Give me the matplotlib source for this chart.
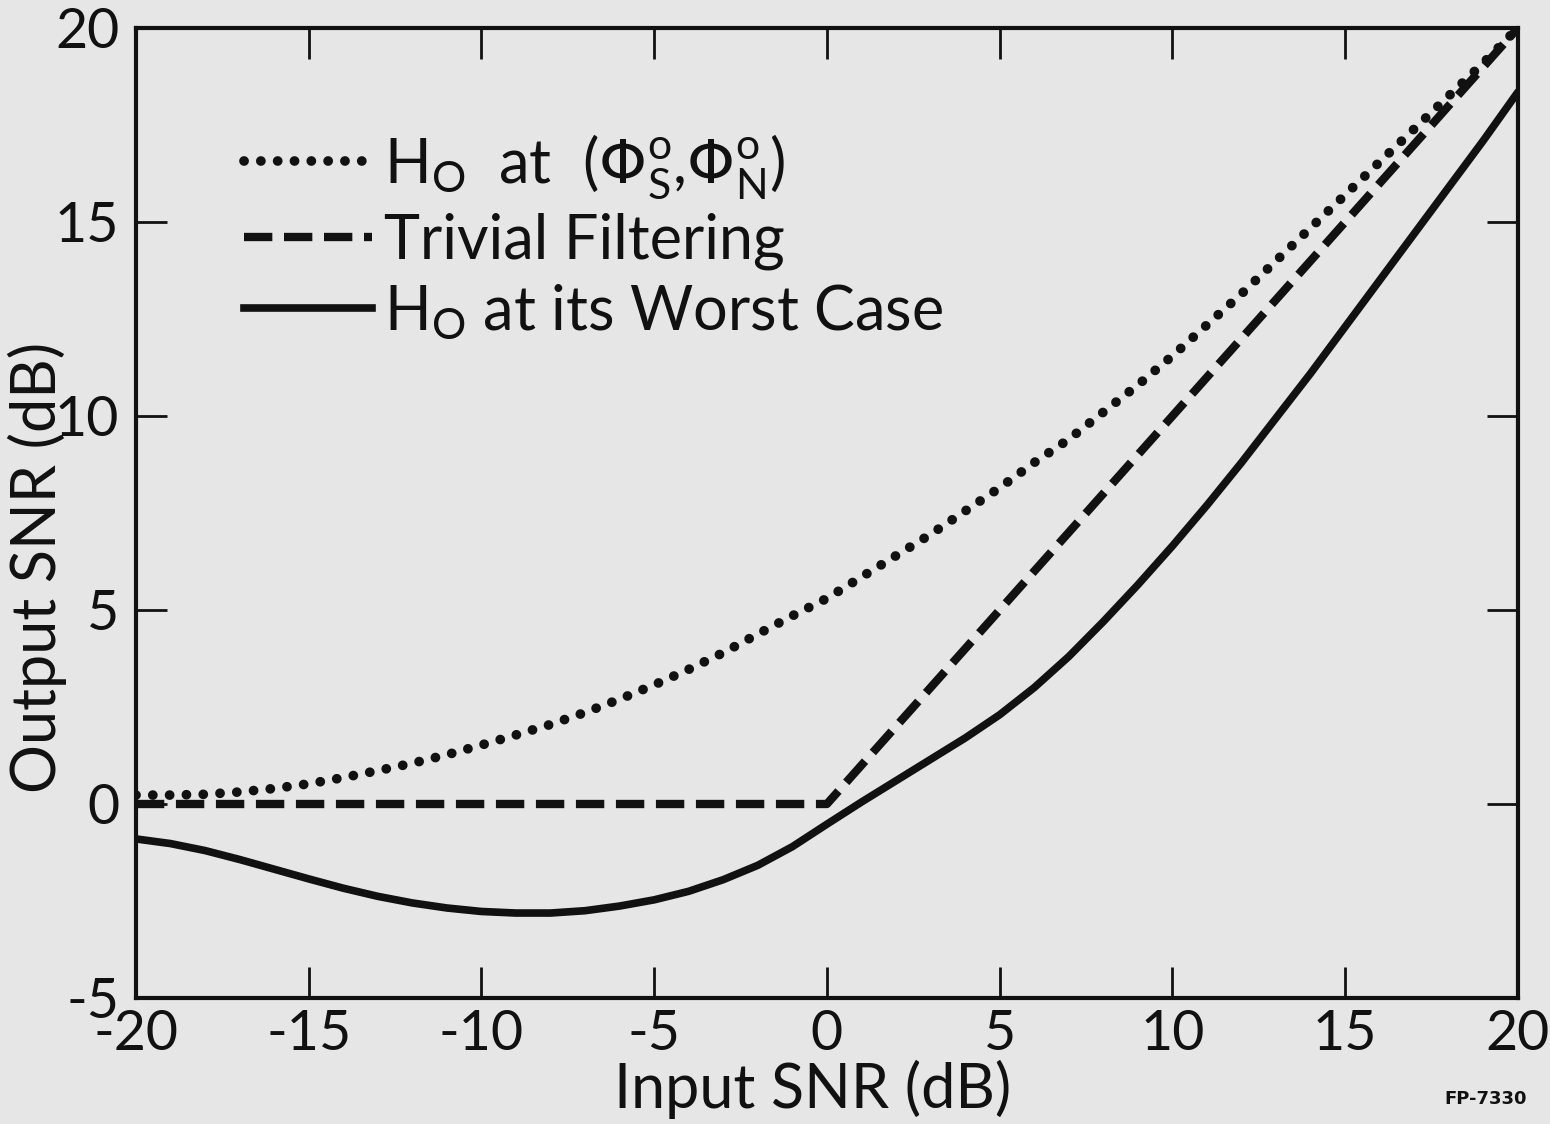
import matplotlib
matplotlib.use("Agg")
import matplotlib.pyplot as plt
from matplotlib.lines import Line2D

plt.rcParams['font.family'] = ['Lato', 'DejaVu Sans']
plt.rcParams['mathtext.fontset'] = 'dejavusans'
plt.rcParams['axes.unicode_minus'] = False

# values (dB)
x_nom = list(range(-20, 21))
ho_nominal = [0.23, 0.23, 0.25, 0.31, 0.40, 0.52, 0.68, 0.86, 1.05, 1.27,
              1.52, 1.78, 2.05, 2.36, 2.70, 3.07, 3.47, 3.90, 4.38, 4.85,
              5.30, 5.85, 6.40, 6.95, 7.55, 8.15, 8.80, 9.40, 10.1, 10.8,
              11.55, 12.35, 13.15, 14.0, 14.85, 15.7, 16.55, 17.4, 18.25, 19.1, 20.0]
x_worst = list(range(-20, 21))
ho_worst = [-0.90, -1.02, -1.20, -1.43, -1.68, -1.93, -2.17, -2.38, -2.55, -2.68,
            -2.77, -2.81, -2.81, -2.75, -2.63, -2.47, -2.25, -1.95, -1.58, -1.10,
            -0.52, 0.05, 0.60, 1.15, 1.70, 2.30, 3.00, 3.80, 4.70, 5.65,
            6.65, 7.70, 8.80, 9.95, 11.1, 12.3, 13.5, 14.7, 15.9, 17.1, 18.35]
trivial_x = [-20, 0, 20]
trivial_y = [0, 0, 20]

labels = [r'H$_\mathregular{O}$  at  ($\Phi^\mathregular{o}_\mathregular{S}$,$\Phi^\mathregular{o}_\mathregular{N}$)',
          'Trivial Filtering',
          r'H$_\mathregular{O}$ at its Worst Case']

ink = '#111111'
paper = '#e6e6e6'
dot_style = (0, (0.01, 1.72))
dash_style = (0, (3.4, 1.4))

fig = plt.figure(figsize=(15.5, 11.24), dpi=100, facecolor=paper)
ax = fig.add_axes([0.0877, 0.1121, 0.8916, 0.863], facecolor=paper)

ax.plot(x_nom, ho_nominal, color=ink, lw=7, linestyle=dot_style,
        dash_capstyle='round', solid_capstyle='round')
ax.plot(trivial_x, trivial_y, color=ink, lw=6, linestyle=dash_style,
        dash_capstyle='butt')
ax.plot(x_worst, ho_worst, color=ink, lw=5.5, solid_capstyle='round',
        solid_joinstyle='round')

ax.set_xlim(-20, 20)
ax.set_ylim(-5, 20)
ax.set_xticks(range(-20, 21, 5))
ax.set_yticks(range(-5, 21, 5))
ax.tick_params(direction='in', length=22, width=2, color=ink,
               top=True, right=True, labelsize=40, labelcolor=ink)
ax.tick_params(axis='x', pad=8)
ax.tick_params(axis='y', pad=12)
for s in ax.spines.values():
    s.set_linewidth(3)
    s.set_color(ink)

ax.set_xlabel('Input SNR (dB)', fontsize=44, color=ink)
ax.set_ylabel('Output SNR (dB)', fontsize=44, color=ink)
ax.xaxis.set_label_coords(0.49, -0.064)
ax.yaxis.set_label_coords(-0.05, 0.444)

handles = [Line2D([], [], color=ink, lw=7, linestyle=dot_style, dash_capstyle='round'),
           Line2D([], [], color=ink, lw=6, linestyle=dash_style),
           Line2D([], [], color=ink, lw=5.5)]
ax.legend(handles, labels, loc='upper left', bbox_to_anchor=(0.078, 0.893),
          frameon=False, fontsize=44, handlelength=2.1, handletextpad=0.2,
          labelspacing=0.2, borderpad=0, borderaxespad=0, labelcolor=ink)

fig.text(0.985, 0.018, 'FP-7330', fontsize=13, fontweight='bold', ha='right',
         family='DejaVu Sans', color=ink)

fig.savefig('out.png', dpi=100, facecolor=paper)
